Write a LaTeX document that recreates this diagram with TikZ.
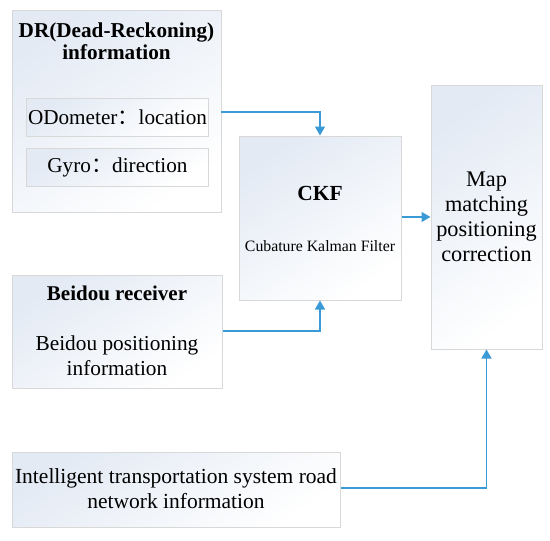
\documentclass[tikz,border=0pt]{standalone}
\usepackage{fontspec}
\setmainfont{Liberation Serif}
\newfontfamily\cjk{Noto Sans CJK SC}
\usetikzlibrary{arrows.meta}
\definecolor{edgegray}{HTML}{D8D8D8}
\definecolor{shadeblue}{HTML}{E3EAF4}
\definecolor{arrowblue}{HTML}{3A9AD5}
\newcommand{\fwcolon}{{\cjk ：}}
\tikzset{
  box/.style={draw=edgegray, line width=1pt, top color=shadeblue, bottom color=white, shading angle=35, inner sep=0pt},
  conn/.style={draw=arrowblue, line width=1.6pt, -{Triangle[length=9pt,width=10pt]}},
}
\begin{document}
\begin{tikzpicture}[x=1pt,y=-1pt]
\useasboundingbox (0,0) rectangle (550,541);
% boxes
\path[box] (12,10) rectangle (221,212);
\node[box, minimum width=182pt, minimum height=38pt] (odo) at (117.5,117) {};
\node[box, minimum width=182pt, minimum height=38pt] (gyro) at (117.5,167) {};
\node[box, minimum width=162pt, minimum height=164pt] (ckf) at (320,218) {};
\node[box, minimum width=111pt, minimum height=264pt] (map) at (486.5,217) {};
\node[box, minimum width=210pt, minimum height=113pt] (bd) at (117,331.5) {};
\node[box, minimum width=328pt, minimum height=75pt] (its) at (176,489.5) {};
% texts
\node[font=\rmfamily\fontsize{21.2}{22}\selectfont\bfseries, align=center] (drt) at (116.5,41) {DR(Dead-Reckoning)\\information};
\node[font=\rmfamily\fontsize{21.2}{22}\selectfont] (odot) at (117.5,117) {ODometer\fwcolon location};
\node[font=\rmfamily\fontsize{21.2}{22}\selectfont] (gyrot) at (117.5,167) {Gyro\fwcolon direction};
\node[font=\rmfamily\fontsize{21.5}{24}\selectfont\bfseries] (ckft) at (320,193) {CKF};
\node[font=\rmfamily\fontsize{15.8}{17}\selectfont] (ckfs) at (320,246) {Cubature Kalman Filter};
\node[font=\rmfamily\fontsize{22.3}{25}\selectfont, align=center] (mapt) at (486.5,217) {Map\\matching\\positioning\\correction};
\node[font=\rmfamily\fontsize{21}{22}\selectfont\bfseries] (bdt) at (117,293) {Beidou receiver};
\node[font=\rmfamily\fontsize{21.3}{25}\selectfont, align=center] (bds) at (117,356) {Beidou positioning\\information};
\node[font=\rmfamily\fontsize{21.5}{25}\selectfont, align=center] (itst) at (176,489) {Intelligent transportation system road\\network information};
% connectors
\coordinate (drout) at (221,112);
\draw[conn] (drout) -| (ckf.north);
\draw[conn] (bd.east |- 0,331) -| (ckf.south);
\draw[conn] (ckf.east |- 0,217) -- (map.west |- 0,217);
\draw[conn] (its.east |- 0,488) -| (map.south);
\end{tikzpicture}
\end{document}
